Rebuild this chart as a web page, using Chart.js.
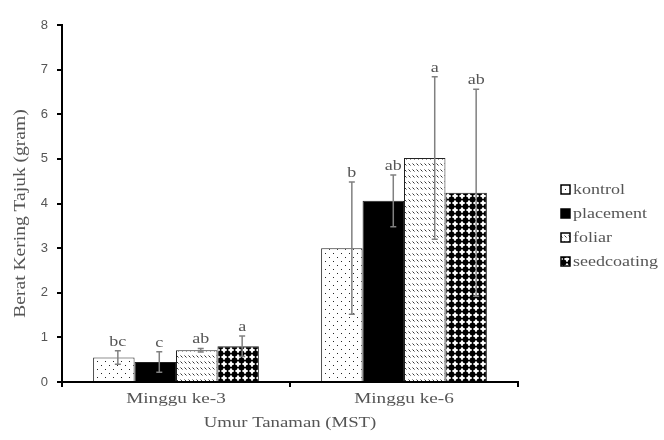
<!DOCTYPE html>
<html>
<head>
<meta charset="utf-8">
<script src="https://cdn.jsdelivr.net/npm/chart.js@4.4.1/dist/chart.umd.min.js"></script>
<style>
html,body{margin:0;padding:0;background:#fff;}
canvas{display:block;}
</style>
</head>
<body>
<canvas id="c" width="664" height="440"></canvas>
<script>
const categories = ["Minggu ke-3", "Minggu ke-6"];
const seriesNames = ["kontrol", "placement", "foliar", "seedcoating"];
const kontrol = [0.55, 3.00];
const placement = [0.45, 4.06];
const foliar = [0.71, 5.02];
const seedcoating = [0.80, 4.24];
const errKontrol = [0.15, 1.48];
const errPlacement = [0.23, 0.58];
const errFoliar = [0.04, 1.82];
const errSeedcoating = [0.23, 2.32];
const lettersKontrol = ["bc", "b"];
const lettersPlacement = ["c", "ab"];
const lettersFoliar = ["ab", "a"];
const lettersSeedcoating = ["a", "ab"];
const yTicks = [0, 1, 2, 3, 4, 5, 6, 7, 8];
const xTitle = "Umur Tanaman (MST)";
const yTitle = "Berat Kering Tajuk (gram)";

function makePattern(kind) {
  const p = document.createElement('canvas');
  const ctx = p.getContext('2d');
  if (kind === 'dots') {
    p.width = 8; p.height = 8;
    ctx.fillStyle = '#fff'; ctx.fillRect(0,0,8,8);
    ctx.fillStyle = '#222';
    ctx.fillRect(1,1,1,1);
    ctx.fillRect(5,5,1,1);
  } else if (kind === 'hatch') {
    p.width = 8; p.height = 6;
    ctx.fillStyle = '#fff'; ctx.fillRect(0,0,8,6);
    ctx.strokeStyle = '#333'; ctx.lineWidth = 1;
    ctx.beginPath();
    ctx.moveTo(0.5,1.5); ctx.lineTo(2.5,3.5);
    ctx.moveTo(4.5,1.5); ctx.lineTo(6.5,3.5);
    ctx.stroke();
  } else if (kind === 'diamonds') {
    p.width = 7; p.height = 7;
    ctx.fillStyle = '#fff'; ctx.fillRect(0,0,7,7);
    ctx.fillStyle = '#000';
    ctx.beginPath(); ctx.arc(3.5,3.5,3,0,Math.PI*2); ctx.fill();
    ctx.fillRect(0,3,7,1.2);
    ctx.fillRect(3,0,1.2,7);
  }
  return document.createElement('canvas').getContext('2d').createPattern(p, 'repeat');
}

const fills = [makePattern('dots'), '#000', makePattern('hatch'), makePattern('diamonds')];
const errs = [errKontrol, errPlacement, errFoliar, errSeedcoating];
const letters = [lettersKontrol, lettersPlacement, lettersFoliar, lettersSeedcoating];
const values = [kontrol, placement, foliar, seedcoating];

const SERIF = '"Liberation Serif", "Times New Roman", serif';
function stretchText(ctx, text, x, y, size, align, sx, rot) {
  ctx.save();
  ctx.translate(x, y);
  if (rot) ctx.rotate(rot);
  ctx.scale(sx, 1);
  ctx.font = size + 'px ' + SERIF;
  ctx.fillStyle = '#555';
  ctx.textAlign = align;
  ctx.textBaseline = 'middle';
  ctx.fillText(text, 0, 0);
  ctx.restore();
}

const errorBarPlugin = {
  id: 'errbars',
  afterDatasetsDraw(chart, args, opts) {
    const ctx = chart.ctx;
    const y = chart.scales.y;
    ctx.save();
    chart.data.datasets.forEach((ds, di) => {
      const meta = chart.getDatasetMeta(di);
      meta.data.forEach((bar, i) => {
        const v = ds.data[i];
        const e = errs[di][i];
        const x = bar.x + opts.offsets[i];
        const yt = y.getPixelForValue(v + e);
        const yb = y.getPixelForValue(v - e);
        ctx.strokeStyle = '#808080';
        ctx.lineWidth = 1.5;
        ctx.beginPath();
        ctx.moveTo(x, yt); ctx.lineTo(x, yb);
        ctx.moveTo(x - 3, yt); ctx.lineTo(x + 3, yt);
        ctx.moveTo(x - 3, yb); ctx.lineTo(x + 3, yb);
        ctx.stroke();
        stretchText(ctx, letters[di][i], x, yt - 9, 15, 'center', 1.2, 0);
      });
    });
    ctx.restore();
  }
};

const textPlugin = {
  id: 'texts',
  afterDraw(chart, args, opts) {
    const ctx = chart.ctx;
    const xs = chart.scales.x;
    const ca = chart.chartArea;
    chart.data.labels.forEach((lab, i) => {
      stretchText(ctx, lab, xs.getPixelForTick(i), ca.bottom + 17, 15, 'center', 1.28, 0);
    });
    stretchText(ctx, xTitle, (ca.left + ca.right) / 2, ca.bottom + 41, 15, 'center', 1.25, 0);
    stretchText(ctx, yTitle, 21, (ca.top + ca.bottom) / 2 + 10, 16, 'center', 1.22, -Math.PI / 2);
    chart.data.datasets.forEach((ds, di) => {
      const yy = opts.y + di * opts.gap;
      ctx.save();
      ctx.fillStyle = ds.backgroundColor;
      ctx.fillRect(opts.x, yy - 5, 9, 9);
      ctx.strokeStyle = '#000'; ctx.lineWidth = 1.5;
      ctx.strokeRect(opts.x, yy - 5, 9, 9);
      ctx.restore();
      stretchText(ctx, ds.label, opts.x + 12, yy, 15, 'left', 1.2, 0);
    });
  }
};

new Chart(document.getElementById('c'), {
  type: 'bar',
  data: {
    labels: categories,
    datasets: seriesNames.map((n, i) => ({
      label: n,
      data: values[i],
      backgroundColor: fills[i],
      borderColor: '#222',
      borderWidth: 1,
      barPercentage: 1.0,
      categoryPercentage: 0.727
    }))
  },
  options: {
    responsive: false,
    animation: false,
    layout: { padding: { left: 0, right: 146, top: 25, bottom: 0 } },
    plugins: {
      legend: { display: false },
      tooltip: { enabled: false },
      errbars: { offsets: [4, 10] },
      texts: { x: 561, y: 190, gap: 24 }
    },
    scales: {
      x: {
        offset: true,
        afterFit(scale) { scale.height = 58; },
        border: { display: true, color: '#000', width: 2 },
        grid: { display: true, drawOnChartArea: false, offset: true, color: '#000', tickLength: 5, lineWidth: 2 },
        ticks: { color: 'rgba(0,0,0,0)', font: { family: SERIF, size: 14 } }
      },
      y: {
        min: 0, max: 8,
        afterFit(scale) { scale.width = 62; },
        afterBuildTicks(scale) { scale.ticks = yTicks.map(v => ({ value: v })); },
        border: { display: true, color: '#000', width: 2 },
        grid: { display: true, drawOnChartArea: false, color: '#000', tickLength: 5, lineWidth: 2 },
        ticks: { color: '#555', font: { family: '"Liberation Sans", Arial, sans-serif', size: 13 }, padding: 9 }
      }
    }
  },
  plugins: [errorBarPlugin, textPlugin]
});
</script>
</body>
</html>
